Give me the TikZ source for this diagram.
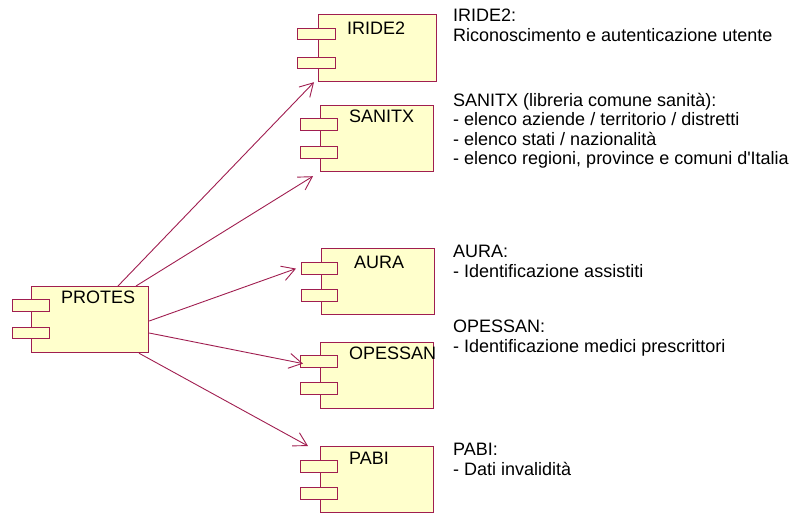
\documentclass[tikz,border=0pt]{standalone}
\usepackage{fontspec}
\setmainfont{Liberation Sans}[Ligatures=TeXOff]
\usetikzlibrary{arrows.meta,calc}
\definecolor{umlline}{RGB}{160,30,80}
\definecolor{umlfill}{RGB}{255,255,204}
\tikzset{
  comp/.style={draw=umlline, fill=umlfill, line width=1.2pt, inner sep=0pt, anchor=north west, minimum width=113pt, minimum height=66pt},
  port/.style={draw=umlline, fill=umlfill, line width=1.2pt, inner sep=0pt, anchor=north west, minimum width=37pt, minimum height=12pt},
  clbl/.style={anchor=base west, inner sep=0pt, font=\fontsize{18}{19.5}\selectfont},
  note/.style={anchor=base west, inner sep=0pt, align=left, font=\fontsize{18}{19.5}\selectfont},
  dep/.style={draw=umlline, line width=0.9pt, -{Straight Barb[length=13pt,width=15pt,line width=0.9pt]}},
}
\begin{document}
\begin{tikzpicture}[x=1pt,y=-1pt]
\useasboundingbox (0,0) rectangle (794,512);
\clip (0,0) rectangle (794,512);
% PROTES
\node[comp, minimum width=117pt] (protes) at (31,286) {};
\node[port] (protesA) at (12,299) {};
\node[port, minimum height=11pt] (protesB) at (12,327) {};
\node[clbl] (protesL) at (61,303) {PROTES};
% IRIDE2
\node[comp, minimum width=118pt, minimum height=67pt] (iride) at (318,14) {};
\node[port, minimum width=38pt, minimum height=11pt] (irideA) at (297,28) {};
\node[port, minimum width=38pt, minimum height=11pt] (irideB) at (297,57) {};
\node[clbl] (irideL) at (347,34) {IRIDE2};
% SANITX
\node[comp] (sanitx) at (320,105) {};
\node[port] (sanitxA) at (300,118) {};
\node[port] (sanitxB) at (300,146) {};
\node[clbl] (sanitxL) at (349,122) {SANITX};
% AURA
\node[comp] (aura) at (321,248) {};
\node[port, minimum width=36pt] (auraA) at (301,262) {};
\node[port, minimum width=36pt] (auraB) at (301,289) {};
\node[clbl] (auraL) at (354,268) {AURA};
% OPESSAN
\node[comp] (opessan) at (320,342) {};
\node[port] (opessanA) at (300,355) {};
\node[port] (opessanB) at (300,382) {};
\node[clbl] (opessanL) at (349,359) {OPESSAN};
% PABI
\node[comp] (pabi) at (320,446) {};
\node[port] (pabiA) at (300,460) {};
\node[port] (pabiB) at (300,487) {};
\node[clbl] (pabiL) at (349,464) {PABI};
% notes (anchored at the baseline of their last line)
\node[note] (n1) at (453,41) {IRIDE2:\\Riconoscimento e autenticazione utente};
\node[note] (n2) at (453,164.5) {SANITX (libreria comune sanità):\\- elenco aziende / territorio / distretti\\- elenco stati / nazionalità\\- elenco regioni, province e comuni d'Italia};
\node[note] (n3) at (453,277) {AURA:\\- Identificazione assistiti};
\node[note] (n4) at (453,352) {OPESSAN:\\- Identificazione medici prescrittori};
\node[note] (n5) at (453,475) {PABI:\\- Dati invalidità};
% connector ends
\coordinate (s1) at ($(protes.north west)+(87,0)$);
\coordinate (s2) at ($(protes.north west)+(105,0)$);
\coordinate (s3) at ($(protes.north east)+(0,35)$);
\coordinate (s4) at ($(protes.north east)+(0,47)$);
\coordinate (s5) at ($(protes.south west)+(108,0)$);
\coordinate (e1) at ($(iride.south west)+(-4,0)$);
\coordinate (e2) at ($(sanitx.south west)+(-7,4)$);
\coordinate (e3) at ($(auraA.west)+(-5,0)$);
\coordinate (e4) at ($(opessanA.west)+(3,2)$);
\coordinate (e5) at ($(pabi.north west)+(-12,0)$);
\draw[dep] (s1) -- (e1);
\draw[dep] (s2) -- (e2);
\draw[dep] (s3) -- (e3);
\draw[dep] (s4) -- (e4);
\draw[dep] (s5) -- (e5);
\end{tikzpicture}
\end{document}
